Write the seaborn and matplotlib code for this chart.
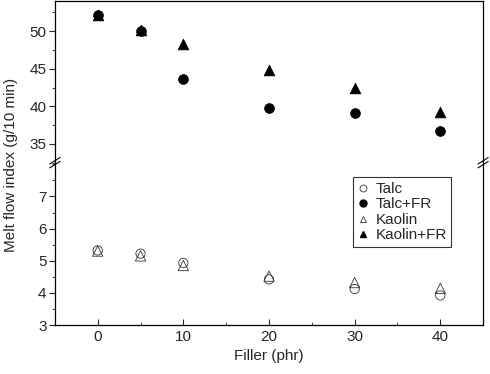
import numpy as np
import seaborn as sns
import matplotlib.pyplot as plt
from matplotlib.lines import Line2D

sns.set_style("ticks")
plt.rcParams['font.family'] = ['Liberation Sans', 'DejaVu Sans']

filler = [0, 5, 10, 20, 30, 40]
talc = [5.32, 5.22, 4.93, 4.42, 4.12, 3.92]
talc_fr = [52.1, 50.0, 43.7, 39.8, 39.1, 36.7]
kaolin = [5.30, 5.15, 4.85, 4.52, 4.32, 4.14]
kaolin_fr = [52.2, 50.1, 48.3, 44.9, 42.4, 39.2]

fig = plt.figure(figsize=(4.9, 3.74), dpi=100)
ax_top = fig.add_axes([0.112, 0.565, 0.874, 0.432])
ax_bot = fig.add_axes([0.112, 0.131, 0.874, 0.434])

# upper part: FR series
sns.scatterplot(x=filler, y=kaolin_fr, ax=ax_top, marker="^", color="black",
                s=60, edgecolor="black", linewidth=0.5, legend=False)
sns.scatterplot(x=filler, y=talc_fr, ax=ax_top, marker="o", color="black",
                s=50, edgecolor="black", linewidth=0.5, legend=False)

# lower part: plain fillers
sns.scatterplot(x=filler, y=talc, ax=ax_bot, marker="o", facecolor="none",
                edgecolor="#333333", s=45, linewidth=0.6)
sns.scatterplot(x=filler, y=kaolin, ax=ax_bot, marker="^", facecolor="none",
                edgecolor="#333333", s=55, linewidth=0.6)

ax_top.set_xlim(-5, 45)
ax_bot.set_xlim(-5, 45)
ax_top.set_ylim(32.5, 54)
ax_bot.set_ylim(3, 8.05)

ax_top.set_yticks([35, 40, 45, 50])
ax_top.set_yticks(np.arange(32.5, 54, 2.5), minor=True)
ax_top.set_xticks([])
ax_top.set_xticks([], minor=True)
ax_bot.set_yticks([3, 4, 5, 6, 7])
ax_bot.set_yticks(np.arange(3, 8.01, 0.5), minor=True)
ax_bot.set_xticks([0, 10, 20, 30, 40])
ax_bot.set_xticks([5, 15, 25, 35], minor=True)

for ax in (ax_top, ax_bot):
    for sp in ax.spines.values():
        sp.set_linewidth(0.9)
        sp.set_color("black")
    ax.tick_params(axis="y", which="major", direction="out", length=4, width=0.8,
                   labelsize=11, pad=2)
    ax.tick_params(axis="y", which="minor", direction="out", length=2, width=0.6)
    ax.tick_params(axis="x", which="major", direction="in", length=4, width=0.8,
                   labelsize=11)
    ax.tick_params(axis="x", which="minor", direction="in", length=2.5, width=0.6)
    ax.set_xlabel("")
    ax.set_ylabel("")

ax_top.spines["bottom"].set_visible(False)
ax_bot.spines["top"].set_visible(False)

ax_bot.set_xlabel("Filler (phr)", fontsize=11)
fig.text(0.022, 0.56, "Melt flow index (g/10 min)", rotation=90,
         ha="center", va="center", fontsize=11)

# break marks
d = 0.012
for xx in (0, 1):
    for off in (-0.012, 0.012):
        ax_bot.plot([xx - d, xx + d], [1 + off - 0.02, 1 + off + 0.02],
                    transform=ax_bot.transAxes, color="black", lw=0.8, clip_on=False)

# legend
handles = [
    Line2D([], [], ls="", marker="o", mfc="none", mec="#333333", ms=5, mew=0.6),
    Line2D([], [], ls="", marker="o", color="black", ms=5),
    Line2D([], [], ls="", marker="^", mfc="none", mec="#333333", ms=5, mew=0.6),
    Line2D([], [], ls="", marker="^", color="black", ms=5),
]
leg = ax_bot.legend(handles, ["Talc", "Talc+FR", "Kaolin", "Kaolin+FR"],
                    loc="upper left", bbox_to_anchor=(0.695, 0.91), fontsize=11,
                    frameon=True, fancybox=False, handlelength=0.8,
                    handletextpad=0.4, borderpad=0.3, labelspacing=0.1,
                    borderaxespad=0)
leg.get_frame().set_edgecolor("black")
leg.get_frame().set_linewidth(0.8)

fig.savefig("out.png", dpi=100)
